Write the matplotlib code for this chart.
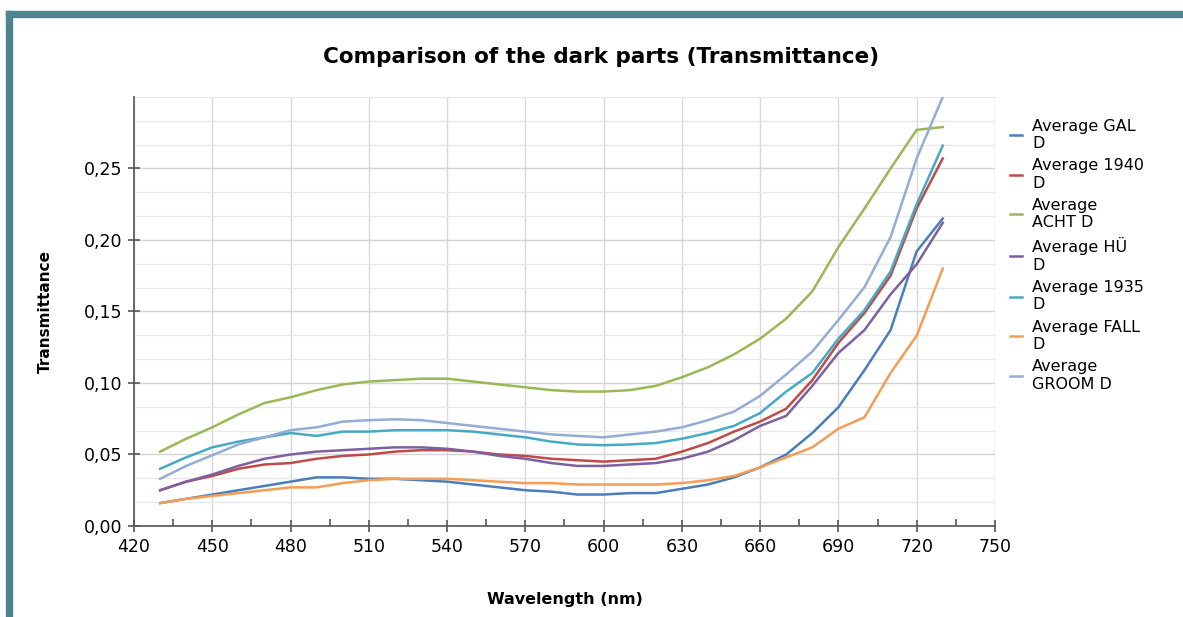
import matplotlib
matplotlib.use("Agg")
import matplotlib.pyplot as plt
from matplotlib.patches import Rectangle
from matplotlib.ticker import MultipleLocator, FixedLocator, FuncFormatter

# wavelength grid (nm)
wavelength = [430, 440, 450, 460, 470, 480, 490, 500, 510, 520, 530,
              540, 550, 560, 570, 580, 590, 600, 610, 620, 630, 640,
              650, 660, 670, 680, 690, 700, 710, 720, 730]

gal = [0.016, 0.019, 0.022, 0.025, 0.028, 0.031, 0.034, 0.034, 0.033, 0.033, 0.032,
       0.031, 0.029, 0.027, 0.025, 0.024, 0.022, 0.022, 0.023, 0.023, 0.026, 0.029,
       0.034, 0.041, 0.050, 0.065, 0.083, 0.109, 0.137, 0.192, 0.215]
y1940 = [0.025, 0.031, 0.035, 0.040, 0.043, 0.044, 0.047, 0.049, 0.050, 0.052, 0.053,
         0.053, 0.052, 0.050, 0.049, 0.047, 0.046, 0.045, 0.046, 0.047, 0.052, 0.058,
         0.066, 0.073, 0.082, 0.102, 0.128, 0.149, 0.175, 0.222, 0.257]
acht = [0.052, 0.061, 0.069, 0.078, 0.086, 0.090, 0.095, 0.099, 0.101, 0.102, 0.103,
        0.103, 0.101, 0.099, 0.097, 0.095, 0.094, 0.094, 0.095, 0.098, 0.104, 0.111,
        0.120, 0.131, 0.145, 0.164, 0.195, 0.222, 0.250, 0.277, 0.279]
hue = [0.025, 0.031, 0.036, 0.042, 0.047, 0.050, 0.052, 0.053, 0.054, 0.055, 0.055,
       0.054, 0.052, 0.049, 0.047, 0.044, 0.042, 0.042, 0.043, 0.044, 0.047, 0.052,
       0.060, 0.070, 0.077, 0.098, 0.121, 0.137, 0.162, 0.183, 0.212]
y1935 = [0.040, 0.048, 0.055, 0.059, 0.062, 0.065, 0.063, 0.066, 0.066, 0.067, 0.067,
         0.067, 0.066, 0.064, 0.062, 0.059, 0.057, 0.0565, 0.057, 0.058, 0.061, 0.065,
         0.070, 0.079, 0.094, 0.107, 0.131, 0.151, 0.178, 0.225, 0.266]
fall = [0.016, 0.019, 0.021, 0.023, 0.025, 0.027, 0.027, 0.030, 0.032, 0.033, 0.033,
        0.033, 0.032, 0.031, 0.030, 0.030, 0.029, 0.029, 0.029, 0.029, 0.030, 0.032,
        0.035, 0.041, 0.048, 0.055, 0.068, 0.076, 0.107, 0.133, 0.180]
groom = [0.033, 0.042, 0.0495, 0.057, 0.062, 0.067, 0.069, 0.073, 0.074, 0.0746, 0.074,
         0.072, 0.070, 0.068, 0.066, 0.064, 0.063, 0.062, 0.064, 0.066, 0.069, 0.074,
         0.080, 0.091, 0.106, 0.122, 0.144, 0.167, 0.202, 0.257, 0.300]

labels = ["Average GAL\nD", "Average 1940\nD", "Average\nACHT D", "Average HÜ\nD",
          "Average 1935\nD", "Average FALL\nD", "Average\nGROOM D"]
series = [gal, y1940, acht, hue, y1935, fall, groom]
colors = ["#4a7ebb", "#be4b48", "#98b954", "#7d60a0", "#46aac5", "#f59d56", "#94acd6"]
y_ticks = [0.0, 0.05, 0.10, 0.15, 0.20, 0.25]

plt.rcParams["font.family"] = "DejaVu Sans"

fig = plt.figure(figsize=(11.83, 6.17), dpi=100)
ax = fig.add_axes([0.1133, 0.1475, 0.7277, 0.6953])

for vals, lab, col in zip(series, labels, colors):
    ax.plot(wavelength, vals, color=col, lw=1.8, label=lab)

ax.set_xlim(420, 750)
ax.set_ylim(0, 0.30)
ax.xaxis.set_major_locator(MultipleLocator(30))
ax.xaxis.set_minor_locator(MultipleLocator(15))
ax.yaxis.set_major_locator(FixedLocator(y_ticks))
ax.yaxis.set_minor_locator(MultipleLocator(0.05 / 3))
ax.yaxis.set_major_formatter(FuncFormatter(lambda v, p: f"{v:.2f}".replace(".", ",")))

ax.grid(True, which="major", axis="x", color="#d9d9d9", lw=1)
ax.grid(True, which="major", axis="y", color="#d4d4d4", lw=1)
ax.grid(True, which="minor", axis="y", color="#e8e8e8", lw=1)
ax.set_axisbelow(True)

for s in ["top", "right"]:
    ax.spines[s].set_visible(False)
for s in ["left", "bottom"]:
    ax.spines[s].set_color("#555555")
    ax.spines[s].set_linewidth(1.2)

ax.tick_params(which="major", direction="inout", length=9, width=1.2,
               color="#555555", labelsize=12.5, pad=4)
ax.tick_params(which="minor", axis="x", direction="in", length=5, width=1.2, color="#555555")
ax.tick_params(which="minor", axis="y", length=0)

ax.set_xlabel("Wavelength (nm)", fontsize=11.5, fontweight="bold", labelpad=26)
ax.set_ylabel("Transmittance", fontsize=11, fontweight="bold", labelpad=22)

fig.text(0.508, 0.908, "Comparison of the dark parts (Transmittance)",
         ha="center", va="center", fontsize=15.5, fontweight="bold")

ax.legend(loc="upper left", bbox_to_anchor=(0.848, 0.818), bbox_transform=fig.transFigure,
          frameon=False, fontsize=11.5, handlelength=0.8, handletextpad=0.6,
          labelspacing=0.45, borderaxespad=0)

# teal frame around the chart
fig.patches.append(Rectangle((6 / 1183, 0), 6 / 1183, 1 - 11 / 617,
                             transform=fig.transFigure, color="#4e8390", zorder=5))
fig.patches.append(Rectangle((6 / 1183, 1 - 17 / 617), 1, 6 / 617,
                             transform=fig.transFigure, color="#4e8390", zorder=5))

fig.savefig("out.png", dpi=100)
